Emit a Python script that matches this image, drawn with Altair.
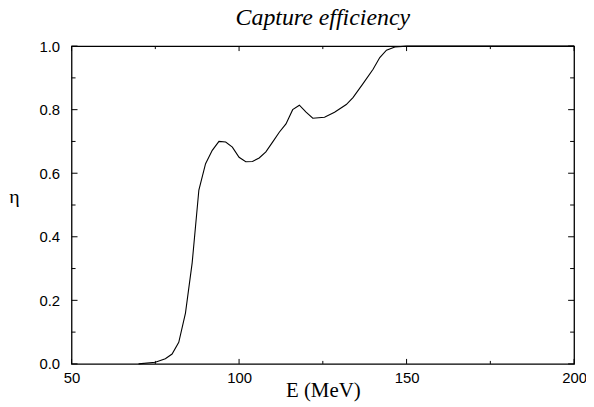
import altair as alt
import pandas as pd

# Curve data
energy = [70, 75, 78, 80, 82, 84, 86, 88, 90, 92, 94, 96, 98, 100, 102, 104, 106,
          108, 110, 112, 114, 116, 118, 120, 122, 125.5, 128.5, 132, 134, 137, 140,
          142, 144, 146.5, 150, 200]
eta = [0.0, 0.005, 0.016, 0.031, 0.068, 0.16, 0.318, 0.547, 0.63, 0.672, 0.70, 0.698,
       0.682, 0.65, 0.636, 0.637, 0.648, 0.667, 0.698, 0.729, 0.755, 0.80, 0.814,
       0.792, 0.773, 0.776, 0.792, 0.816, 0.838, 0.882, 0.927, 0.964, 0.987, 0.997,
       1.0, 1.0]

x_major = [50, 100, 150, 200]
x_minor = [75, 125, 175]
y_major = [0.0, 0.2, 0.4, 0.6, 0.8, 1.0]
y_minor = [0.1, 0.3, 0.5, 0.7, 0.9]

W, H = 506, 320

df = pd.DataFrame({"E": energy, "eta": eta})
xs = alt.Scale(domain=[50, 200], nice=False, zero=False)
ys = alt.Scale(domain=[0, 1], nice=False)

line = alt.Chart(df).mark_line(color="black", strokeWidth=1.1).encode(
    x=alt.X("E:Q", scale=xs, axis=alt.Axis(
        values=x_major, format="d", ticks=False, grid=False, domain=False,
        labelFlush=False,
        labelFont="Liberation Sans", labelFontSize=15, labelColor="black",
        labelPadding=7, title="E (MeV)", titleFont="Liberation Serif",
        titleFontSize=21, titleFontWeight="normal", titleColor="black",
        titleY=33, titleBaseline="alphabetic")),
    y=alt.Y("eta:Q", scale=ys, axis=alt.Axis(
        values=y_major, format=".1f", ticks=False, grid=False, domain=False,
        labelFlush=False,
        labelFont="Liberation Sans", labelFontSize=15, labelColor="black",
        labelPadding=12, title="η", titleFont="Liberation Serif",
        titleFontSize=20, titleFontWeight="normal", titleColor="black",
        titleAngle=0, titleX=-58, titleY=157, titleAlign="center",
        titleBaseline="alphabetic")),
)

xmaj = pd.DataFrame({"v": x_major})
xmin = pd.DataFrame({"v": x_minor})
ymaj = pd.DataFrame({"v": y_major})
ymin = pd.DataFrame({"v": y_minor})


def xticks(data, length):
    b = alt.Chart(data).mark_rule(color="black", strokeWidth=1).encode(
        x=alt.X("v:Q", scale=xs), y=alt.value(H), y2=alt.value(H - length))
    t = alt.Chart(data).mark_rule(color="black", strokeWidth=1).encode(
        x=alt.X("v:Q", scale=xs), y=alt.value(0), y2=alt.value(length))
    return [b, t]


def yticks(data, length):
    l = alt.Chart(data).mark_rule(color="black", strokeWidth=1).encode(
        y=alt.Y("v:Q", scale=ys), x=alt.value(0), x2=alt.value(length))
    r = alt.Chart(data).mark_rule(color="black", strokeWidth=1).encode(
        y=alt.Y("v:Q", scale=ys), x=alt.value(W), x2=alt.value(W - length))
    return [l, r]


layers = [line] + xticks(xmaj, 5) + xticks(xmin, 3) + yticks(ymaj, 6) + yticks(ymin, 4)

chart = alt.layer(*layers).properties(
    width=W, height=H,
    background="white",
    title=alt.TitleParams("Capture efficiency", font="Liberation Serif",
                          fontStyle="italic", fontSize=24, fontWeight="normal",
                          color="black", anchor="middle", frame="group",
                          baseline="bottom", offset=7, dy=22),
    autosize=alt.AutoSizeParams(type="none"),
    padding={"left": 64, "top": 37, "right": 12, "bottom": 37},
).configure_view(stroke="black", strokeWidth=1.3)

chart.save("out.html", embed_options={"renderer": "svg", "actions": False})
